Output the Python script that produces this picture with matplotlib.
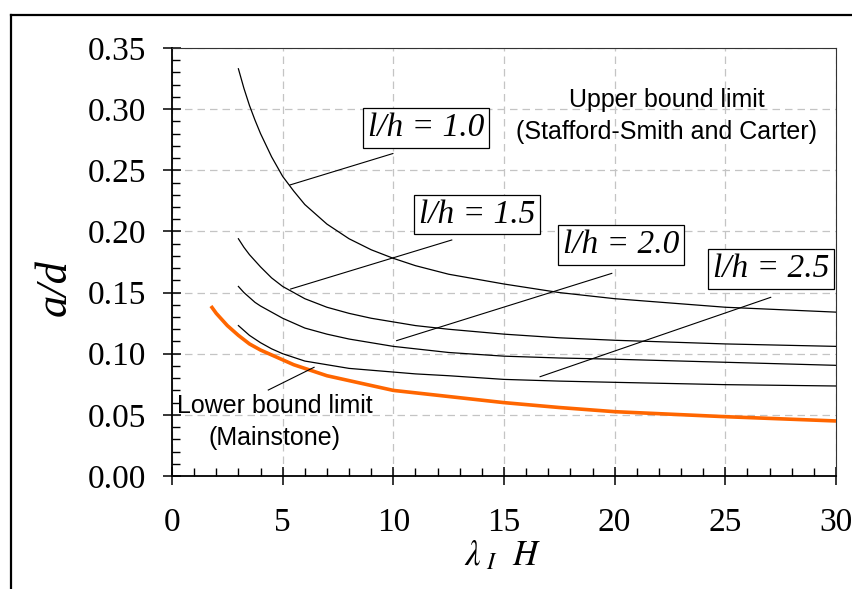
import matplotlib
matplotlib.use("Agg")
import matplotlib.pyplot as plt
from matplotlib.lines import Line2D
from matplotlib.ticker import MultipleLocator, FormatStrFormatter

plt.rcParams['mathtext.fontset'] = 'stix'

# ---- data ----
x_lh10 = [3.0, 3.25, 3.5, 3.75, 4.0, 4.5, 5.0, 5.5, 6.0, 7.0, 8.0, 9.0, 10.0, 11.0, 12.5, 15.0, 17.5, 20.0, 25.0, 30.0]
y_lh10 = [0.333, 0.317, 0.303, 0.291, 0.280, 0.261, 0.245, 0.233, 0.222, 0.206, 0.194, 0.185, 0.178, 0.172, 0.165, 0.157, 0.150, 0.145, 0.138, 0.134]

x_lh15 = [3.0, 3.25, 3.5, 3.75, 4.0, 4.5, 5.0, 5.5, 6.0, 7.0, 8.0, 9.0, 10.0, 11.0, 12.5, 15.0, 17.5, 20.0, 25.0, 30.0]
y_lh15 = [0.194, 0.187, 0.181, 0.176, 0.171, 0.162, 0.155, 0.150, 0.145, 0.138, 0.133, 0.129, 0.126, 0.123, 0.120, 0.116, 0.113, 0.111, 0.108, 0.106]

x_lh20 = [3.0, 3.25, 3.5, 3.75, 4.0, 4.5, 5.0, 5.5, 6.0, 7.0, 8.0, 9.0, 10.0, 11.0, 12.5, 15.0, 17.5, 20.0, 25.0, 30.0]
y_lh20 = [0.155, 0.150, 0.146, 0.142, 0.139, 0.134, 0.129, 0.125, 0.121, 0.116, 0.112, 0.109, 0.106, 0.104, 0.101, 0.098, 0.0965, 0.0955, 0.093, 0.0905]

x_lh25 = [3.0, 3.25, 3.5, 3.75, 4.0, 4.5, 5.0, 5.5, 6.0, 7.0, 8.0, 9.0, 10.0, 11.0, 12.5, 15.0, 17.5, 20.0, 25.0, 30.0]
y_lh25 = [0.123, 0.119, 0.115, 0.112, 0.109, 0.104, 0.100, 0.097, 0.094, 0.091, 0.088, 0.0865, 0.085, 0.0835, 0.082, 0.079, 0.0776, 0.0766, 0.0747, 0.0736]

x_lower = [1.76, 2.0, 2.25, 2.5, 2.75, 3.0, 3.5, 4.0, 4.5, 5.0, 5.5, 6.0, 7.0, 8.0, 9.0, 10.0, 11.0, 12.5, 15.0, 17.5, 20.0, 25.0, 30.0]
y_lower = [0.139, 0.133, 0.128, 0.123, 0.119, 0.115, 0.108, 0.103, 0.099, 0.095, 0.091, 0.088, 0.082, 0.078, 0.074, 0.070, 0.068, 0.065, 0.060, 0.056, 0.0526, 0.0485, 0.045]

box_labels = ['l/h = 1.0', 'l/h = 1.5', 'l/h = 2.0', 'l/h = 2.5']
upper_text = 'Upper bound limit\n(Stafford-Smith and Carter)'
lower_text = 'Lower bound limit\n(Mainstone)'

W, H = 852, 589
fig = plt.figure(figsize=(W / 100, H / 100), dpi=100)
ax = fig.add_axes([172 / W, 1 - 476 / H, (836 - 172) / W, (476 - 48) / H])

# outer frame (left and top visible)
fig.add_artist(Line2D([11 / W, 11 / W], [0, 1 - 15 / H], transform=fig.transFigure, color='black', lw=1.6))
fig.add_artist(Line2D([11 / W, 1], [1 - 15 / H, 1 - 15 / H], transform=fig.transFigure, color='black', lw=1.6))

ax.set_xlim(0, 30)
ax.set_ylim(0, 0.35)

ax.plot(x_lh10, y_lh10, color='black', lw=0.9, zorder=3)
ax.plot(x_lh15, y_lh15, color='black', lw=0.9, zorder=3)
ax.plot(x_lh20, y_lh20, color='black', lw=0.9, zorder=3)
ax.plot(x_lh25, y_lh25, color='black', lw=0.9, zorder=3)
ax.plot(x_lower, y_lower, color='#ff6600', lw=2.6, zorder=3, solid_capstyle='butt')

# grid
ax.grid(True, which='major', color='#c4c4c4', lw=0.9, linestyle=(0, (6, 4)))
ax.set_axisbelow(True)

ax.xaxis.set_major_locator(MultipleLocator(5))
ax.xaxis.set_minor_locator(MultipleLocator(1))
ax.yaxis.set_major_locator(MultipleLocator(0.05))
ax.yaxis.set_minor_locator(MultipleLocator(0.01))
ax.yaxis.set_major_formatter(FormatStrFormatter('%.2f'))

for s in ['left', 'bottom']:
    ax.spines[s].set_linewidth(1.3)
for s in ['top', 'right']:
    ax.spines[s].set_linewidth(0.8)
    ax.spines[s].set_color('#333333')

ax.tick_params(which='major', direction='inout', length=13, width=1.1,
               labelsize=24, top=False, right=False)
ax.tick_params(which='minor', direction='in', length=6, width=1.0, top=False, right=False)
ax.tick_params(axis='y', which='major', pad=12)
ax.tick_params(axis='x', which='major', pad=16)
for lab in ax.get_xticklabels() + ax.get_yticklabels():
    lab.set_fontfamily('Liberation Serif')

# axis labels
fig.text(55 / W, 1 - 288 / H, 'a/d', rotation=90, ha='center', va='center',
         fontsize=32, family='Liberation Serif', style='italic')
fig.text(503 / W, 1 - 555 / H, r'$\lambda_{\ I}\ \ H$', ha='center', va='center', fontsize=25)

# leader lines
ax.plot([5.33, 9.98], [0.238, 0.2637], color='black', lw=0.8, zorder=4)
ax.plot([5.36, 12.64], [0.1529, 0.193], color='black', lw=0.8, zorder=4)
ax.plot([10.15, 19.87], [0.1107, 0.1657], color='black', lw=0.8, zorder=4)
ax.plot([16.63, 27.05], [0.0812, 0.1461], color='black', lw=0.8, zorder=4)
ax.plot([4.35, 6.42], [0.0703, 0.0889], color='black', lw=0.8, zorder=4)

# boxed labels (centers in pixel coords converted to data)
def px2data(px, py):
    return ((px - 172) / 664 * 30, (476 - py) / 428 * 0.35)

box_centers = [(426, 128), (477, 214.5), (621, 245), (771, 269)]
for lab, (cx, cy) in zip(box_labels, box_centers):
    dx, dy = px2data(cx, cy)
    ax.text(dx, dy, lab, ha='center', va='center', fontsize=24, family='Liberation Serif',
            style='italic', zorder=5,
            bbox=dict(boxstyle='square,pad=0.14', fc='white', ec='black', lw=0.9))

ux, uy = px2data(667, 116)
ax.text(ux, uy, upper_text, ha='center', va='center', fontsize=18, family='Liberation Sans',
        linespacing=1.42, zorder=5)
lx, ly = px2data(275, 422)
ax.text(lx, ly, lower_text, ha='center', va='center', fontsize=18, family='Liberation Sans',
        linespacing=1.42, zorder=5)

fig.savefig('out.png', dpi=100)
